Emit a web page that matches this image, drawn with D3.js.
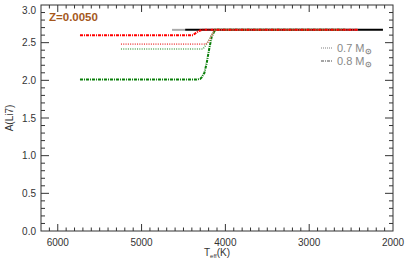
<!DOCTYPE html>
<html>
<head>
<meta charset="utf-8">
<script src="https://cdn.jsdelivr.net/npm/d3@7"></script>
<style>
  body { margin: 0; background: #fff; }
  svg { display: block; font-family: "Liberation Sans", Arial, sans-serif; }
</style>
</head>
<body>
<div id="chart"><svg width="407" height="262"></svg></div>
<script>
// ---- data ----
var metallicity = "Z=0.0050";
var xTicks = [6000, 5000, 4000, 3000, 2000];
var yTicks = [0.0, 0.5, 1.0, 1.5, 2.0, 2.5, 3.0];
var massLabels = ["0.7", "0.8"];

// red, 0.8 Msun (dash-dot)
var redDashTeff = [5735, 4386, 4350, 4315, 4279, 2420];
var redDashLi   = [2.60, 2.60, 2.63, 2.655, 2.67, 2.67];
// red, 0.7 Msun (dotted)
var redDotTeff = [5246, 4232, 4196, 4172, 4148, 4124, 2420];
var redDotLi   = [2.48, 2.48, 2.52, 2.575, 2.63, 2.67, 2.67];
// green, 0.8 Msun (dash-dot)
var greenDashTeff = [5735, 4342, 4300, 4283, 4250, 4223, 4196, 4164, 4124, 2570];
var greenDashLi   = [2.01, 2.01, 2.02, 2.04, 2.10, 2.23, 2.40, 2.575, 2.67, 2.67];
// green, 0.7 Msun (dotted)
var greenDotTeff = [5246, 4267, 4232, 4196, 4172, 4148, 4112, 2570];
var greenDotLi   = [2.416, 2.416, 2.47, 2.535, 2.59, 2.63, 2.67, 2.67];
// black / grey reference track
var greyTeff = [4637, 4480];
var greyLi   = [2.67, 2.67];
var blackTeff = [4480, 2120];
var blackLi   = [2.67, 2.67];

var svg = d3.select("#chart svg");

var x = d3.scaleLinear().domain([6200, 2000]).range([41, 393]);
var y = d3.scaleLinear().domain([0, 3]).range([231, 5]);

var axisColor = "#333";

// minor ticks
var xMinor = d3.range(6100, 2000, -100);
var yMinor = d3.range(0.1, 3.0, 0.1);

var ticks = svg.append("g").attr("stroke", axisColor).attr("stroke-width", 1);
ticks.selectAll(".xb").data(xMinor).enter().append("line")
    .attr("x1", d => x(d)).attr("x2", d => x(d))
    .attr("y1", 231).attr("y2", d => (d % 1000 === 0 ? 224 : 227.5));
ticks.selectAll(".xt").data(xMinor).enter().append("line")
    .attr("x1", d => x(d)).attr("x2", d => x(d))
    .attr("y1", 5).attr("y2", d => (d % 1000 === 0 ? 12 : 8.5));
ticks.selectAll(".yl").data(yMinor).enter().append("line")
    .attr("y1", d => y(d)).attr("y2", d => y(d))
    .attr("x1", 41).attr("x2", d => (Math.abs(d * 2 - Math.round(d * 2)) < 1e-6 ? 49 : 45));
ticks.selectAll(".yr").data(yMinor).enter().append("line")
    .attr("y1", d => y(d)).attr("y2", d => y(d))
    .attr("x1", 393).attr("x2", d => (Math.abs(d * 2 - Math.round(d * 2)) < 1e-6 ? 385 : 389));

// frame
svg.append("rect")
    .attr("x", 41).attr("y", 5)
    .attr("width", 393 - 41).attr("height", 231 - 5)
    .attr("fill", "none").attr("stroke", axisColor).attr("stroke-width", 1);

// tick labels
svg.append("g").selectAll("text").data(xTicks).enter().append("text")
    .attr("x", d => x(d)).attr("y", 246)
    .attr("text-anchor", "middle").attr("font-size", 10).attr("fill", "#333")
    .text(d => d);
svg.append("g").selectAll("text").data(yTicks).enter().append("text")
    .attr("x", 36).attr("y", d => Math.max(y(d), 10) + 3.5)
    .attr("text-anchor", "end").attr("font-size", 10).attr("fill", "#333")
    .text(d => d.toFixed(1));

// axis titles
var xt = svg.append("text").attr("x", 217).attr("y", 256)
    .attr("text-anchor", "middle").attr("font-size", 10).attr("fill", "#333");
xt.append("tspan").text("T");
xt.append("tspan").attr("font-size", 6).attr("dy", 2).text("eff");
xt.append("tspan").attr("dy", -2).text("(K)");

svg.append("text")
    .attr("transform", "translate(13,118) rotate(-90)")
    .attr("text-anchor", "middle").attr("font-size", 10).attr("fill", "#333")
    .text("A(Li7)");

svg.append("text").attr("x", 49).attr("y", 21)
    .attr("font-size", 11.5).attr("font-weight", "bold").attr("fill", "#a5581c")
    .text(metallicity);

// tracks
var line = d3.line().x(d => x(d[0])).y(d => y(d[1]));
function track(teff, li, color, dash, width) {
    svg.append("path")
        .datum(d3.zip(teff, li))
        .attr("d", line)
        .attr("fill", "none")
        .attr("stroke", color)
        .attr("stroke-width", width)
        .attr("stroke-dasharray", dash);
}
track(greyTeff, greyLi, "#aaa", null, 2);
track(blackTeff, blackLi, "#000", null, 2);
track(greenDotTeff, greenDotLi, "#5aaa5a", "1,1.3", 1.6);
track(greenDashTeff, greenDashLi, "#0a7f0a", "3,1,1,1", 2);
track(redDotTeff, redDotLi, "#f06060", "1,1.3", 1.6);
track(redDashTeff, redDashLi, "#ff0000", "3,1,1,1", 2);

// legend
var legend = svg.append("g");
massLabels.forEach(function(m, i) {
    var ly = 48 + i * 13;
    legend.append("line")
        .attr("x1", 321).attr("x2", 333).attr("y1", ly).attr("y2", ly)
        .attr("stroke", i === 0 ? "#aaa" : "#888").attr("stroke-width", 1.6)
        .attr("stroke-dasharray", i === 0 ? "1,1" : "3,1,1,1");
    var t = legend.append("text").attr("x", 337).attr("y", ly + 4)
        .attr("font-size", 11).attr("fill", "#888");
    t.append("tspan").text(m + " M");
    t.append("tspan").attr("font-size", 8).attr("font-weight", "bold").attr("dy", 2).text("\u2299");
});
</script>
</body>
</html>
